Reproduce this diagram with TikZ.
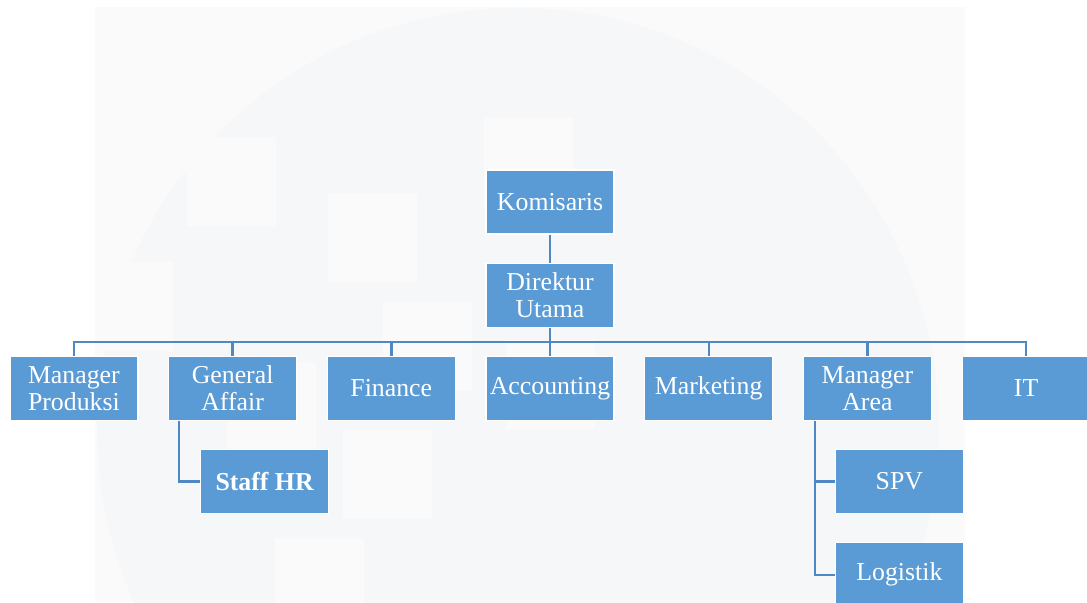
\documentclass[tikz,border=0pt]{standalone}
\usepackage{fontspec}
\setmainfont{Liberation Serif}
\usepackage{tikz}
\usetikzlibrary{positioning,calc}

\definecolor{boxblue}{HTML}{5B9BD5}
\definecolor{linkblue}{HTML}{4F88C3}
\definecolor{markbg}{HTML}{FAFAFA}
\definecolor{markcircle}{HTML}{F6F7F9}

\tikzset{
	unit/.style={draw=white,
		fill=boxblue,
		text=white,
		line width=0.6pt,
		minimum width=64pt,
		minimum height=32pt,
		inner xsep=1pt,
		align=center,
		font=\fontsize{12.9}{13.5}\selectfont
	},
	link/.style={draw=linkblue, line width=1.2pt}
}

\begin{document}
\begin{tikzpicture}[x=0.5pt,y=-0.5pt]
		\useasboundingbox (0,0) rectangle (1087,602);

		% faint watermark behind the chart
		\begin{scope}
			\clip (95,7) rectangle (965,602);
			\fill[markbg] (95,7) rectangle (965,602);
			\fill[markcircle] (518,429) circle[radius=210.5pt];
			\foreach \x/\y in {187/137, 328/193, 484/118, 383/302, 84/262,
				227/362, 343/430, 275/538, 506/340}
				\fill[markbg] (\x,\y) rectangle ++(44.5pt,-44.5pt);
		\end{scope}

		\node[unit] (komisaris) at (550,202) {Komisaris};

		\node[unit,
			below=14pt of komisaris
		] (direktur) {Direktur\\Utama};

		\node[unit,
			below=14pt of direktur
		] (accounting) {Accounting};

		\node[unit, left=14.75pt of accounting] (finance) {Finance};
		\node[unit, left=14.75pt of finance] (general) {General\\Affair};
		\node[unit, left=14.75pt of general] (produksi) {Manager\\Produksi};
		\node[unit, right=14.75pt of accounting] (marketing) {Marketing};
		\node[unit, right=14.75pt of marketing] (area) {Manager\\Area};
		\node[unit, right=14.75pt of area] (it) {IT};

		\node[unit,
			below=14pt of general,
			xshift=16pt,
			font=\fontsize{12.9}{13.5}\selectfont\bfseries
		] (staffhr) {Staff HR};

		\node[unit,
			below=14pt of area,
			xshift=16pt
		] (spv) {SPV};

		\node[unit,
			below=14pt of spv
		] (logistik) {Logistik};

		\draw[link] (komisaris) -- (direktur);
		\foreach \n in {produksi,general,finance,accounting,marketing,area,it}
			\draw[link] (direktur.south) -- ++(0,-7pt) -| (\n.north);

		\draw[link] ([xshift=5.5pt]general.south west) |- (staffhr.west);
		\draw[link] ([xshift=6pt]area.south west) |- (spv.west);
		\draw[link] ([xshift=6pt]area.south west) |- (logistik.west);

	\end{tikzpicture}
\end{document}
